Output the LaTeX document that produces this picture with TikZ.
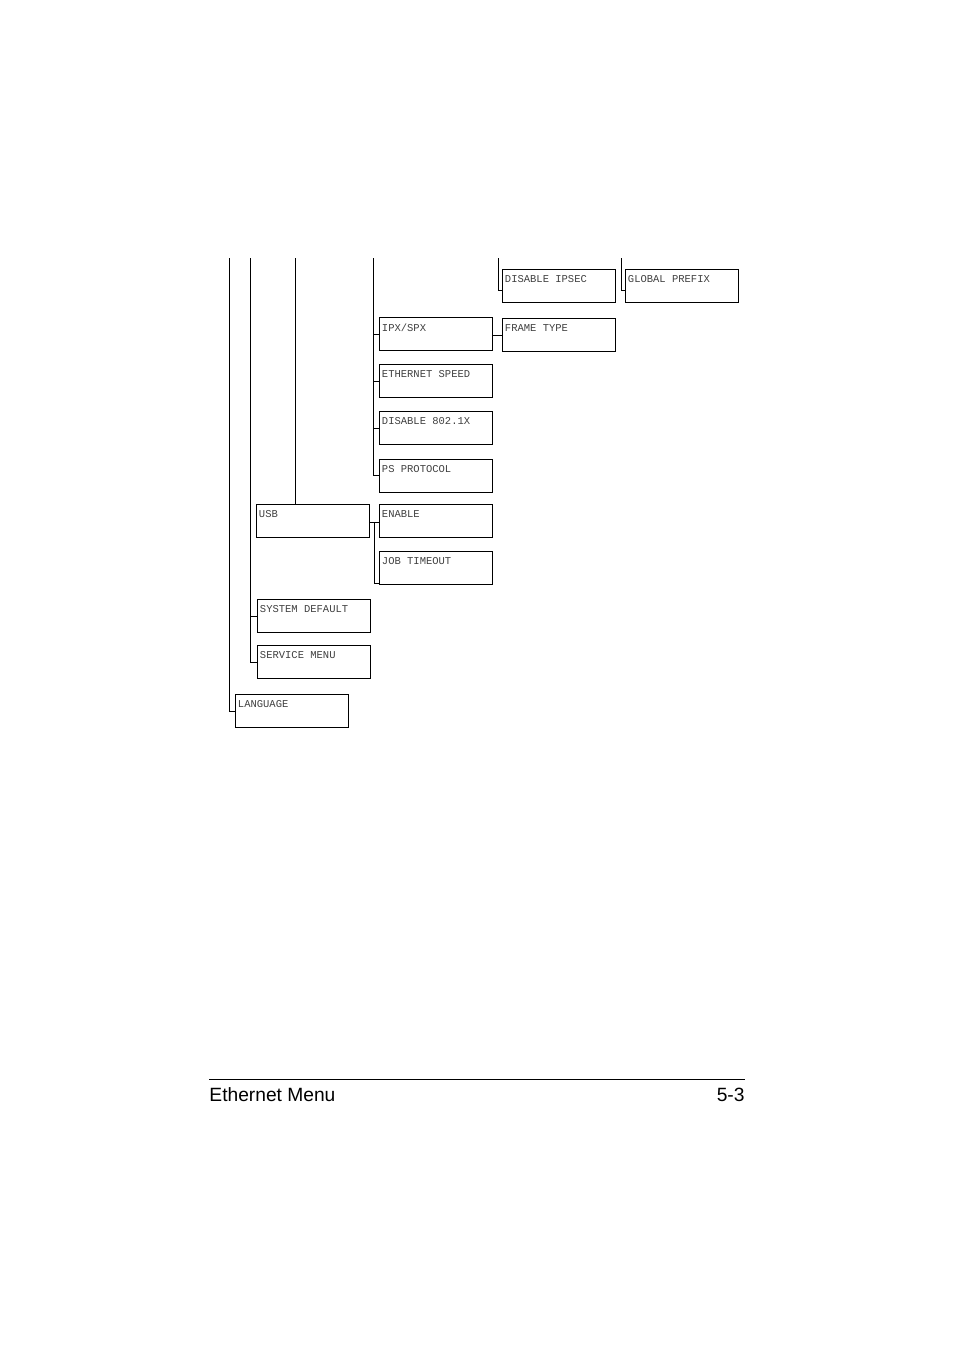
\documentclass[tikz,border=0pt]{standalone}
\usepackage{fontspec}
\setmainfont{Liberation Sans}
\newfontfamily\boxfont{Liberation Mono}
\begin{document}
\begin{tikzpicture}[x=1pt,y=-1pt,line width=0.9pt,
  mbox/.style={draw,minimum width=113pt,minimum height=33pt,anchor=north west,inner sep=0pt},
  lbl/.style={anchor=north west,inner sep=0pt,font=\boxfont\fontsize{10.5}{12}\selectfont,text=black!75}]
\useasboundingbox (0,0) rectangle (954,1350);
\newcommand\mb[4]{\node[mbox] (#1) at (#2,#3) {}; \node[lbl] at (#2+2.5,#3+6) {#4};}
\mb{ipsec}{502}{269}{DISABLE IPSEC}
\mb{gp}{625}{269}{GLOBAL PREFIX}
\mb{ipx}{379}{317}{IPX/SPX}
\mb{ft}{502}{318}{FRAME TYPE}
\mb{es}{379}{364}{ETHERNET SPEED}
\mb{d8}{379}{411}{DISABLE 802.1X}
\mb{ps}{379}{459}{PS PROTOCOL}
\mb{usb}{256}{504}{USB}
\mb{en}{379}{504}{ENABLE}
\mb{jt}{379}{551}{JOB TIMEOUT}
\mb{sd}{257}{599}{SYSTEM DEFAULT}
\mb{sm}{257}{645}{SERVICE MENU}
\mb{lang}{235}{694}{LANGUAGE}
\coordinate (t1) at (498,258);
\coordinate (t2) at (621,258);
\coordinate (t3) at (373,258);
\coordinate (t4) at (295,258);
\coordinate (t5) at (250,258);
\coordinate (t6) at (229,258);
\draw (t1) |- (ipsec.west|-0,290);
\draw (t2) |- (gp.west|-0,290);
\draw (t3) |- (ps.west|-0,475);
\draw (t3|-ipx.west) -- (ipx.west);
\draw (t3|-es.west) -- (es.west);
\draw (t3|-d8.west) -- (d8.west);
\draw (ipx.east|-ft.west) -- (ft.west);
\draw (t4) -- (t4|-usb.north);
\draw (usb.east|-0,522) -- (en.west|-0,522);
\draw (374,522) |- (jt.west|-0,583);
\draw (t5) |- (sm.west|-0,662);
\draw (t5|-sd.west) -- (sd.west);
\draw (t6) |- (lang.west|-0,711);
\draw[line width=0.8pt] (209,1079) coordinate (fl) -- (745,1079) coordinate (fr);
\node[anchor=base west,inner sep=0pt,font=\fontsize{19.2}{22}\selectfont] (ft1) at (209,1101) {Ethernet Menu};
\node[anchor=base east,inner sep=0pt,font=\fontsize{19.2}{22}\selectfont] (ft2) at (745,1101) {5-3};
\end{tikzpicture}
\end{document}
